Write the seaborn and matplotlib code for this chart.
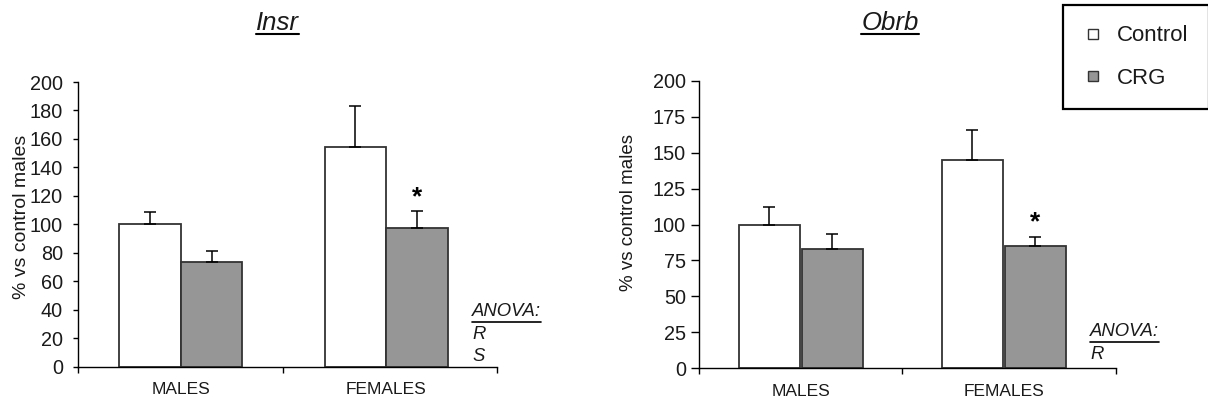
import numpy as np
import pandas as pd
import matplotlib
matplotlib.use("Agg")
import matplotlib.pyplot as plt
from matplotlib.lines import Line2D
import seaborn as sns

# ---- data -------------------------------------------------------------
sexes = ["MALES", "FEMALES"]
groups = ["Control", "CRG"]

insr_control = [100.0, 154.0]
insr_control_sem = [8.5, 29.0]
insr_crg = [73.5, 97.3]
insr_crg_sem = [7.8, 12.2]

obrb_control = [100.0, 145.0]
obrb_control_sem = [12.2, 20.4]
obrb_crg = [83.2, 84.8]
obrb_crg_sem = [10.2, 6.7]

insr_ticks = list(range(0, 201, 20))
obrb_ticks = list(range(0, 201, 25))
insr_anova = ["R", "S"]
obrb_anova = ["R"]

ylabel = "% vs control males"
colors = {"Control": "white", "CRG": "#969696"}
EDGE = "#333333"
TXT = "#1a1a1a"

sns.set_style("ticks")
plt.rcParams["font.family"] = ["Liberation Sans", "DejaVu Sans"]

W, H = 1208, 403
fig = plt.figure(figsize=(W / 100, H / 100), dpi=100)


def px_x(x):
    return x / W


def px_y(y):
    return 1 - y / H


def table(control, crg):
    return pd.DataFrame({
        "sex": sexes * 2,
        "group": [groups[0]] * 2 + [groups[1]] * 2,
        "value": list(control) + list(crg),
    })


def panel(rect, df, sems, ticks, width, gap, xmax, ylab_xy, ylab_size,
          ytick_pad, ytick_len, star_idx):
    ax = fig.add_axes(rect)
    sns.barplot(data=df, x="sex", y="value", hue="group", order=sexes,
                hue_order=groups, palette=colors, saturation=1,
                width=width, gap=gap, errorbar=None, edgecolor=EDGE,
                linewidth=1.3, legend=False, ax=ax, zorder=2)
    tops = {}
    for level, cont, sem in zip(groups, ax.containers, sems):
        bars = sorted(cont, key=lambda b: b.get_x())
        for sex, bar, s in zip(sexes, bars, sem):
            xc = bar.get_x() + bar.get_width() / 2
            h = bar.get_height()
            ax.errorbar([xc], [h], yerr=[[0], [s]], fmt="none",
                        ecolor="black", elinewidth=1.1, capsize=4,
                        capthick=1.1, zorder=3)
            tops[(level, sex)] = (xc, h + s)
    ax.set_ylim(0, 200)
    ax.set_xlim(-0.5, xmax)
    ax.set_yticks(ticks)
    ax.set_xlabel("")
    ax.set_ylabel(ylabel, fontsize=ylab_size, color=TXT, va="center")
    ax.yaxis.set_label_coords(*ylab_xy)
    sns.despine(ax=ax)
    for side in ("left", "bottom"):
        ax.spines[side].set_color("black")
        ax.spines[side].set_linewidth(1.0)
    ax.tick_params(axis="y", labelsize=14.3, labelcolor=TXT, length=ytick_len,
                   width=1.0, color="black", pad=ytick_pad)
    ax.tick_params(axis="x", which="major", length=0, labelsize=12.5,
                   labelcolor=TXT, pad=11)
    ax.set_xticks([-0.5, 0.5, xmax], minor=True)
    ax.tick_params(axis="x", which="minor", length=4.5, width=1.0,
                   color="black", direction="out")
    ax.grid(False)
    xc, ytop = tops[("CRG", sexes[star_idx])]
    ax.annotate("*", xy=(xc, ytop), xytext=(0, 5), textcoords="offset points",
                ha="center", va="baseline", fontsize=19, fontweight="bold",
                color="black", annotation_clip=False)
    return ax


ax1 = panel([px_x(78), px_y(366.7), px_x(497) - px_x(78), (366.7 - 82) / H],
            table(insr_control, insr_crg), [insr_control_sem, insr_crg_sem],
            insr_ticks, 0.6, 0, 1.539, (-0.1337, 0.5276), 14.0, 7.2, 3.6, 1)
ax2 = panel([px_x(699), px_y(368.3), px_x(1115.7) - px_x(699), (368.3 - 80.7) / H],
            table(obrb_control, obrb_crg), [obrb_control_sem, obrb_crg_sem],
            obrb_ticks, 0.62, 0.03, 1.55, (-0.1697, 0.5417), 13.5, 4.0, 5.5, 1)

renderer = fig.canvas.get_renderer()


def underline(txt, y_top_px, lw):
    bb = txt.get_window_extent(renderer)
    fig.add_artist(Line2D([bb.x0 / W, bb.x1 / W], [px_y(y_top_px)] * 2,
                          transform=fig.transFigure, color="black", lw=lw))


# gene titles
for name, xc in (("Insr", 277), ("Obrb", 890)):
    t = fig.text(px_x(xc), px_y(23), name, ha="center", va="center",
                 fontsize=18.5, style="italic", color=TXT)
    underline(t, 34, 1.5)

# ANOVA notes
for x0, y0, rows in ((472, 311.7, insr_anova), (1090, 331.7, obrb_anova)):
    t = fig.text(px_x(x0), px_y(y0), "ANOVA:", ha="left", va="center",
                 fontsize=13.3, style="italic", color=TXT)
    underline(t, y0 + 10.5, 1.2)
    for i, r in enumerate(rows):
        fig.text(px_x(x0), px_y(y0 + 23 + 21.5 * i), r, ha="left",
                 va="center", fontsize=13.3, style="italic", color=TXT)

# legend
handles = [Line2D([], [], marker="s", linestyle="none", markersize=7.5,
                  markerfacecolor=colors[g], markeredgecolor=EDGE,
                  markeredgewidth=1.0, label=g) for g in groups]
leg = fig.legend(handles=handles, loc="upper left",
                 bbox_to_anchor=(px_x(1063), px_y(5)), fontsize=16,
                 frameon=True, fancybox=False, framealpha=1,
                 borderpad=0.92, handlelength=0.85, handletextpad=0.66,
                 labelspacing=0.95, borderaxespad=0)
leg.get_frame().set_edgecolor("black")
leg.get_frame().set_linewidth(1.6)
for t in leg.get_texts():
    t.set_color(TXT)

fig.savefig("out.png", dpi=100)
